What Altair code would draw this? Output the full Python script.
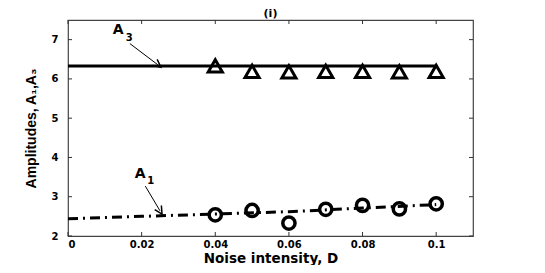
import altair as alt
import pandas as pd

# data
a3_line_x = [0.0, 0.1]
a3_line_y = [6.33, 6.33]
a3_pts_x = [0.04, 0.05, 0.06, 0.07, 0.08, 0.09, 0.1]
a3_pts_y = [6.33, 6.19, 6.18, 6.19, 6.19, 6.18, 6.19]

a1_line_x = [0.0, 0.02, 0.04, 0.06, 0.08, 0.1]
a1_line_y = [2.44, 2.50, 2.56, 2.62, 2.71, 2.80]
a1_pts_x = [0.04, 0.05, 0.06, 0.07, 0.08, 0.09, 0.1]
a1_pts_y = [2.54, 2.65, 2.33, 2.68, 2.78, 2.69, 2.82]

x_ticks = [0, 0.02, 0.04, 0.06, 0.08, 0.1]
y_ticks = [2, 3, 4, 5, 6, 7]

# annotations (data coords)
lab_text = ["A", "3", "A", "1"]
lab_x = [0.0136, 0.0166, 0.0196, 0.0225]
lab_y = [7.25, 7.04, 3.57, 3.39]
lab_size = [14, 10, 14, 10]

arr_id = ["a3", "a3", "a1", "a1"]
arr_x = [0.0168, 0.0244, 0.0210, 0.0250]
arr_y = [6.90, 6.36, 3.27, 2.64]
head_x = [0.0244, 0.0250]
head_y = [6.36, 2.64]
head_angle = [128, 149]

W, H = 405, 216
FONT = "Liberation Sans"
WIDE = "DejaVu Sans"

xs = alt.Scale(domain=[0, 0.11], nice=False, zero=False)
ys = alt.Scale(domain=[2, 7.5], nice=False, zero=False)

xax = alt.Axis(values=x_ticks, format="~g", ticks=False, domain=False, grid=False,
               labelFont=WIDE, labelFontWeight="bold", labelFontSize=10, labelColor="black",
               labelPadding=3, title="Noise intensity, D", titleFont=WIDE,
               titleFontWeight="bold", titleFontSize=13.5, titleColor="black", titlePadding=2)
yax = alt.Axis(values=y_ticks, ticks=False, domain=False, grid=False,
               labelFont=WIDE, labelFontWeight="bold", labelFontSize=10, labelColor="black",
               labelPadding=10, title="Amplitudes, A₁,A₃", titleFont=FONT,
               titleFontWeight="bold", titleFontSize=14, titleColor="black", titlePadding=13)

a3l = pd.DataFrame({"x": a3_line_x, "y": a3_line_y})
a3p = pd.DataFrame({"x": a3_pts_x, "y": a3_pts_y})
a1l = pd.DataFrame({"x": a1_line_x, "y": a1_line_y})
a1p = pd.DataFrame({"x": a1_pts_x, "y": a1_pts_y})
xt = pd.DataFrame({"x": x_ticks})
yt = pd.DataFrame({"y": y_ticks})
labs = pd.DataFrame({"t": lab_text, "x": lab_x, "y": lab_y, "s": lab_size})
arrs = pd.DataFrame({"id": arr_id, "x": arr_x, "y": arr_y})
heads = pd.DataFrame({"x": head_x, "y": head_y, "a": head_angle})

base_line3 = alt.Chart(a3l).mark_line(color="black", strokeWidth=3).encode(
    x=alt.X("x:Q", scale=xs, axis=xax), y=alt.Y("y:Q", scale=ys, axis=yax))
tri = alt.Chart(a3p).mark_point(shape="triangle-up", filled=False, color="black",
                                 strokeWidth=3, size=200, opacity=1).encode(
    x=alt.X("x:Q", scale=xs), y=alt.Y("y:Q", scale=ys))
line1 = alt.Chart(a1l).mark_line(color="black", strokeWidth=3, strokeDash=[10, 5, 2, 5]).encode(
    x=alt.X("x:Q", scale=xs), y=alt.Y("y:Q", scale=ys))
circ = alt.Chart(a1p).mark_point(shape="circle", filled=False, color="black",
                                  strokeWidth=3.5, size=150, opacity=1).encode(
    x=alt.X("x:Q", scale=xs), y=alt.Y("y:Q", scale=ys))

tb = alt.Chart(xt).mark_rule(color="#333", strokeWidth=1).encode(
    x=alt.X("x:Q", scale=xs), y=alt.value(H), y2=alt.value(H - 4))
tt = alt.Chart(xt).mark_rule(color="#333", strokeWidth=1).encode(
    x=alt.X("x:Q", scale=xs), y=alt.value(0), y2=alt.value(4))
tl = alt.Chart(yt).mark_rule(color="#333", strokeWidth=1).encode(
    y=alt.Y("y:Q", scale=ys), x=alt.value(0), x2=alt.value(4))
tr = alt.Chart(yt).mark_rule(color="#333", strokeWidth=1).encode(
    y=alt.Y("y:Q", scale=ys), x=alt.value(W), x2=alt.value(W - 4))

labels = alt.Chart(labs).mark_text(font=WIDE, fontWeight="bold", color="black").encode(
    x=alt.X("x:Q", scale=xs), y=alt.Y("y:Q", scale=ys), text="t:N",
    size=alt.Size("s:Q", scale=None, legend=None))
arrows = alt.Chart(arrs).mark_line(color="black", strokeWidth=1).encode(
    x=alt.X("x:Q", scale=xs), y=alt.Y("y:Q", scale=ys), detail="id:N")
heads_m = alt.Chart(heads).mark_point(shape="M -1 1 L 0 -1 L 1 1", filled=False, color="black",
                                      strokeWidth=1.5, size=60, opacity=1).encode(
    x=alt.X("x:Q", scale=xs), y=alt.Y("y:Q", scale=ys),
    angle=alt.Angle("a:Q", scale=None))

chart = alt.layer(tb, tt, tl, tr, base_line3, tri, line1, circ, arrows, heads_m, labels).properties(
    width=W, height=H,
    title=alt.TitleParams("(i)", font=WIDE, fontWeight="bold", fontSize=11, color="black",
                          offset=1),
    autosize=alt.AutoSizeParams(type="none"),
    padding={"left": 60, "top": 12, "right": 64, "bottom": 29},
).configure_view(stroke="#444", strokeWidth=1.2)

chart.save("out.html", embed_options={"renderer": "svg", "actions": False})
